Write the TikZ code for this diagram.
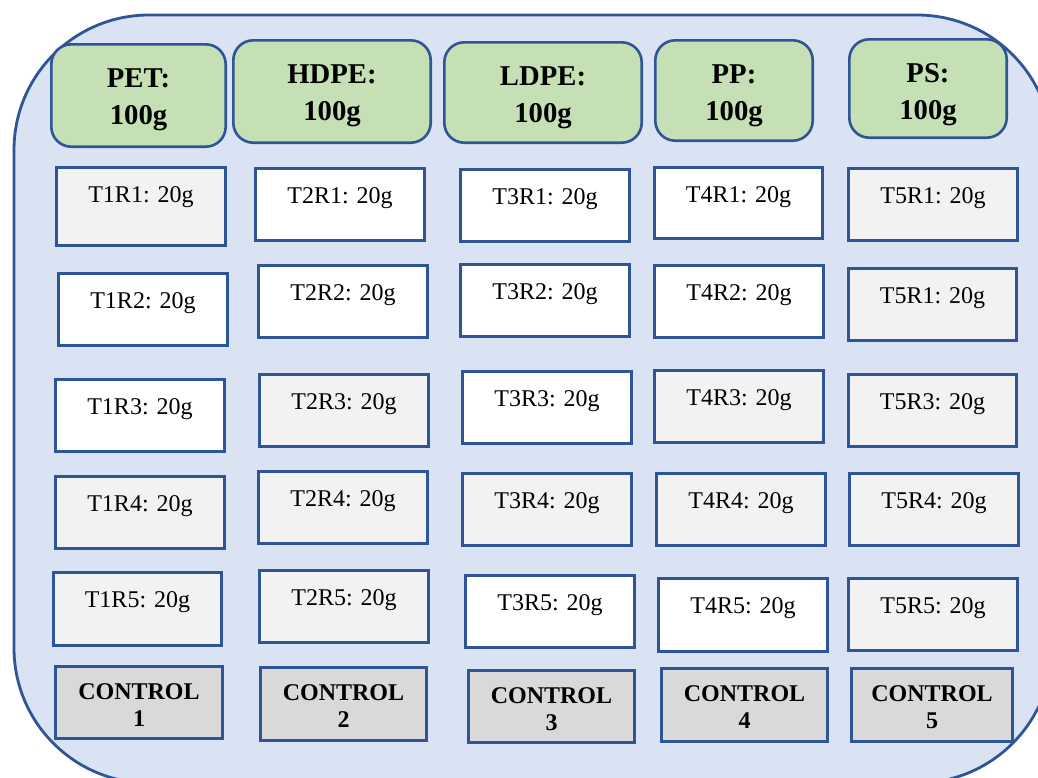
\documentclass[tikz,border=0pt]{standalone}
\usepackage{fontspec}
\setmainfont{Liberation Serif}
\definecolor{outerfill}{HTML}{DAE3F3}
\definecolor{edge}{HTML}{2F5597}
\definecolor{hdrfill}{HTML}{C5E0B4}
\definecolor{greyfill}{HTML}{F2F2F2}
\definecolor{ctrlfill}{HTML}{D9D9D9}
\tikzset{
  outerbox/.style={draw=edge, line width=2.8pt, fill=outerfill, rounded corners=135pt},
  hdrbox/.style={draw=edge, line width=2.6pt, fill=hdrfill, rounded corners=20pt, inner sep=0pt, outer sep=0pt},
  cellbox/.style={draw=edge, line width=2.8pt, inner sep=0pt, outer sep=0pt},
  celltext/.style={anchor=base, inner sep=0pt, font=\fontsize{24}{28}\selectfont},
  hdrtext/.style={anchor=base, inner sep=0pt, font=\fontsize{28.7}{34}\selectfont\bfseries},
  ctrltext/.style={anchor=base, inner sep=0pt, font=\fontsize{24}{28}\selectfont\bfseries},
}
% name, x1, y1, x2, y2, fill, text
\newcommand\mycell[7]{%
  \pgfmathsetmacro\cx{(#2+#4)/2}\pgfmathsetmacro\cy{(#3+#5)/2}%
  \pgfmathsetmacro\cw{#4-#2-2.8}\pgfmathsetmacro\ch{#5-#3-2.8}%
  \node[cellbox, fill=#6, minimum width=\cw pt, minimum height=\ch pt] (#1) at (\cx,\cy) {};
  \node[celltext] at ([yshift=-34.6pt]#1.north) {#7};}
% name, x1, y1, x2, y2, line1, line2
\newcommand\myhdr[7]{%
  \pgfmathsetmacro\cx{(#2+#4)/2}\pgfmathsetmacro\cy{(#3+#5)/2}%
  \pgfmathsetmacro\cw{#4-#2-2.6}\pgfmathsetmacro\ch{#5-#3-2.6}%
  \node[hdrbox, minimum width=\cw pt, minimum height=\ch pt] (#1) at (\cx,\cy) {};
  \node[hdrtext] at ([yshift=-42.7pt]#1.north) {#6};
  \node[hdrtext] at ([yshift=-79.7pt]#1.north) {#7};}
% name, x1, y1, x2, y2, number
\newcommand\myctrl[6]{%
  \pgfmathsetmacro\cx{(#2+#4)/2}\pgfmathsetmacro\cy{(#3+#5)/2}%
  \pgfmathsetmacro\cw{#4-#2-2.8}\pgfmathsetmacro\ch{#5-#3-2.8}%
  \node[cellbox, fill=ctrlfill, minimum width=\cw pt, minimum height=\ch pt] (#1) at (\cx,\cy) {};
  \node[ctrltext] at ([yshift=-32.6pt]#1.north) {CONTROL};
  \node[ctrltext] at ([yshift=-59.6pt]#1.north) {#6};}
\begin{document}
\begin{tikzpicture}[x=1pt,y=-1pt]
\useasboundingbox (0,0) rectangle (1038,777);
\clip (0,0) rectangle (1038,777);
\fill[white] (0,0) rectangle (1038,777);
\draw[outerbox] (14,15) rectangle (1052,783);

\myhdr{pet}{50}{43}{227}{148}{PET:}{100g}
\myhdr{hdpe}{232}{39}{432}{144}{HDPE:}{100g}
\myhdr{ldpe}{443}{41}{643}{144}{LDPE:}{100g}
\myhdr{pp}{654}{39}{814}{142}{PP:}{100g}
\myhdr{ps}{848}{38}{1008}{139}{PS:}{100g}

% row 1
\mycell{t1r1}{55}{166}{227}{247}{greyfill}{T1R1: 20g}
\mycell{t2r1}{254}{167}{426}{242}{white}{T2R1: 20g}
\mycell{t3r1}{459}{168}{631}{243}{white}{T3R1: 20g}
\mycell{t4r1}{653}{166}{824}{240}{white}{T4R1: 20g}
\mycell{t5r1}{847}{167}{1019}{242}{greyfill}{T5R1: 20g}
% row 2
\mycell{t1r2}{57}{272}{229}{347}{white}{T1R2: 20g}
\mycell{t2r2}{257}{264}{429}{339}{white}{T2R2: 20g}
\mycell{t3r2}{459}{263}{631}{338}{white}{T3R2: 20g}
\mycell{t4r2}{653}{264}{825}{339}{white}{T4R2: 20g}
\mycell{t5r2}{847}{267}{1018}{342}{greyfill}{T5R1: 20g}
% row 3
\mycell{t1r3}{54}{378}{226}{453}{white}{T1R3: 20g}
\mycell{t2r3}{258}{373}{430}{448}{greyfill}{T2R3: 20g}
\mycell{t3r3}{461}{370}{633}{445}{white}{T3R3: 20g}
\mycell{t4r3}{653}{369}{825}{444}{greyfill}{T4R3: 20g}
\mycell{t5r3}{847}{373}{1018}{448}{greyfill}{T5R3: 20g}
% row 4
\mycell{t1r4}{54}{475}{226}{550}{greyfill}{T1R4: 20g}
\mycell{t2r4}{257}{470}{429}{545}{greyfill}{T2R4: 20g}
\mycell{t3r4}{461}{472}{633}{547}{greyfill}{T3R4: 20g}
\mycell{t4r4}{655}{472}{827}{547}{greyfill}{T4R4: 20g}
\mycell{t5r4}{848}{472}{1020}{547}{greyfill}{T5R4: 20g}
% row 5
\mycell{t1r5}{52}{571}{223}{647}{greyfill}{T1R5: 20g}
\mycell{t2r5}{258}{569}{430}{644}{greyfill}{T2R5: 20g}
\mycell{t3r5}{464}{574}{636}{649}{white}{T3R5: 20g}
\mycell{t4r5}{657}{577}{829}{653}{white}{T4R5: 20g}
\mycell{t5r5}{847}{577}{1019}{652}{greyfill}{T5R5: 20g}
% controls
\myctrl{c1}{54}{665}{224}{740}{1}
\myctrl{c2}{259}{666}{428}{742}{2}
\myctrl{c3}{467}{669}{636}{744}{3}
\myctrl{c4}{660}{667}{829}{743}{4}
\myctrl{c5}{850}{667}{1014}{743}{5}
\end{tikzpicture}
\end{document}
